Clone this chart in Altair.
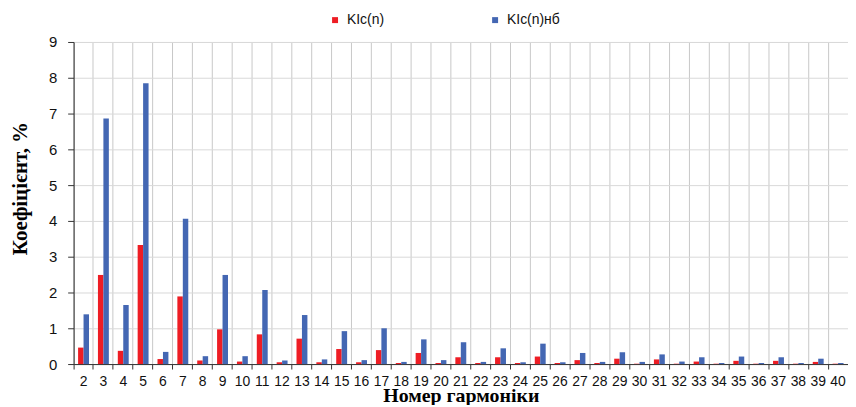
import altair as alt
import pandas as pd

harmonics = list(range(2, 41))
k_n = [0.46, 2.49, 0.37, 3.33, 0.14, 1.89, 0.10, 0.97, 0.07, 0.83,
       0.05, 0.71, 0.05, 0.42, 0.05, 0.39, 0.03, 0.31, 0.03, 0.19,
       0.03, 0.19, 0.03, 0.21, 0.03, 0.11, 0.03, 0.15, 0.01, 0.13,
       0.01, 0.07, 0.01, 0.09, 0.01, 0.09, 0.01, 0.06, 0.01]
k_nb = [1.39, 6.86, 1.65, 7.85, 0.34, 4.06, 0.22, 2.49, 0.22, 2.07,
        0.10, 1.37, 0.13, 0.92, 0.11, 1.00, 0.06, 0.69, 0.11, 0.61,
        0.06, 0.44, 0.05, 0.57, 0.05, 0.31, 0.06, 0.33, 0.06, 0.27,
        0.07, 0.19, 0.03, 0.21, 0.03, 0.19, 0.03, 0.15, 0.03]
series = ["KIc(n)", "KIc(n)нб"]
colors = ["#EE1D24", "#4467B3"]
y_ticks = list(range(0, 10))

rows = []
for h, a, b in zip(harmonics, k_n, k_nb):
    rows.append({"n": h, "s": series[0], "v": a})
    rows.append({"n": h, "s": series[1], "v": b})
df = pd.DataFrame(rows)

chart = alt.Chart(df).mark_bar().encode(
    x=alt.X("n:O", title="Номер гармоніки",
            scale=alt.Scale(paddingInner=0, paddingOuter=0),
            axis=alt.Axis(labelAngle=0, bandPosition=0, grid=True,
                          gridColor="#c8c8c8", domainColor="#333333",
                          tickColor="#333333", tickSize=5, labelPadding=6,
                          labelFont="Liberation Sans Narrow, Liberation Sans",
                          labelFontSize=14,
                          labelColor="#111111", labelOverlap=False,
                          titleFont="Liberation Serif", titleFontSize=20,
                          titleFontWeight="bold", titleColor="#000000",
                          titleY=22, titleBaseline="top")),
    xOffset=alt.XOffset("s:N", sort=series,
                        scale=alt.Scale(paddingOuter=0.82, paddingInner=0)),
    y=alt.Y("v:Q", title="Коефіцієнт, %",
            scale=alt.Scale(domain=[0, 9], nice=False),
            axis=alt.Axis(values=y_ticks, grid=True, gridColor="#d9d9d9",
                          domainColor="#333333", tickColor="#333333",
                          tickSize=6, labelPadding=11,
                          labelFont="Liberation Sans", labelFontSize=15,
                          labelColor="#111111",
                          titleFont="Liberation Serif", titleFontSize=21,
                          titleFontWeight="bold", titleColor="#000000",
                          titleAngle=270, titleX=-53, titleY=147,
                          titleAlign="center", titleBaseline="middle")),
    color=alt.Color("s:N", sort=series,
                    scale=alt.Scale(domain=series, range=colors),
                    legend=alt.Legend(title=None, orient="none",
                                      legendX=256, legendY=-29,
                                      direction="horizontal",
                                      symbolType="square", symbolSize=36,
                                      symbolStrokeWidth=0,
                                      labelFont="Liberation Sans",
                                      labelFontSize=14, labelColor="#111111",
                                      labelOffset=5, columnPadding=104)),
).properties(
    width=779, height=324,
    autosize=alt.AutoSizeParams(type="none"),
    padding={"left": 66, "top": 33, "right": 0, "bottom": 40},
).configure_view(stroke="#d0d0d0")

chart.save("out.html", embed_options={"renderer": "svg", "actions": False})
